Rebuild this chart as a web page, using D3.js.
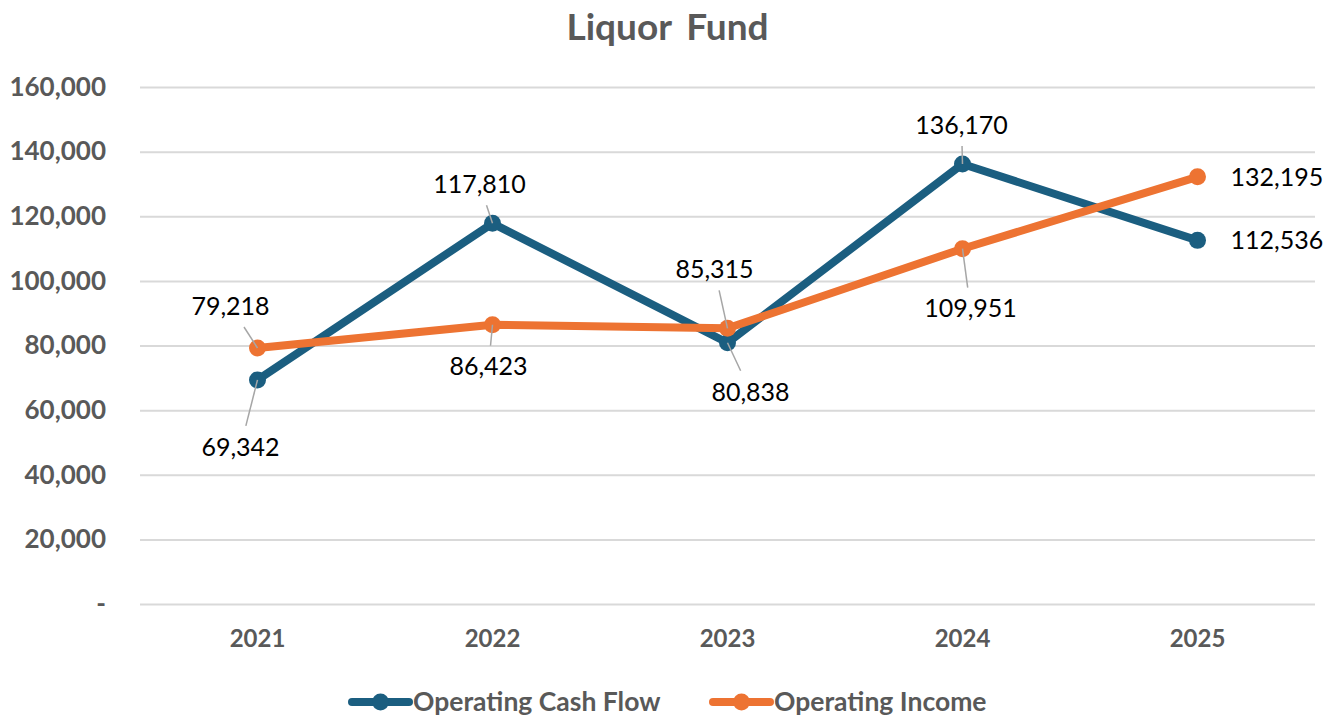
<!DOCTYPE html>
<html>
<head>
<meta charset="utf-8">
<script src="https://cdn.jsdelivr.net/npm/d3@7"></script>
<style>
  body { margin: 0; background: #fff; }
  svg { font-family: Lato, "Noto Sans", sans-serif; }
</style>
</head>
<body>
<svg id="chart" width="1335" height="717"></svg>
<script>
const years = ["2021", "2022", "2023", "2024", "2025"];
const cashFlow = [69342, 117810, 80838, 136170, 112536];
const income = [79218, 86423, 85315, 109951, 132195];
const yTicks = [0, 20000, 40000, 60000, 80000, 100000, 120000, 140000, 160000];

// label placement relative to the point: [dx, dy, leader?]
const cashLabelPos = [[-17, 67, true], [-13, -39, true], [23, 49, true], [-1, -39, true], [0, 0, "right"]];
const incomeLabelPos = [[-27, -42, true], [-4, 42, true], [-13, -59, true], [8, 60, true], [0, 0, "right"]];

const width = 1335, height = 717;
const margin = { top: 87, right: 20, bottom: 113, left: 140 };
const svg = d3.select("#chart");

const x = d3.scaleBand().domain(years).range([margin.left, width - margin.right]);
const y = d3.scaleLinear().domain([0, 160000]).range([height - margin.bottom, margin.top]);
const cx = (d) => x(d) + x.bandwidth() / 2;

const gray = "#595959";
const series = [
  { name: "Operating Cash Flow", values: cashFlow, color: "#1B5E80", pos: cashLabelPos },
  { name: "Operating Income", values: income, color: "#ED7332", pos: incomeLabelPos },
];

svg.append("text")
  .attr("x", width / 2).attr("y", 40)
  .attr("text-anchor", "middle")
  .attr("fill", gray)
  .attr("font-size", 37).attr("font-weight", 700)
  .attr("word-spacing", 6)
  .text("Liquor Fund");

// gridlines + y labels
const yAxis = svg.append("g")
  .attr("transform", `translate(${margin.left},0)`)
  .call(d3.axisLeft(y).tickValues(yTicks)
    .tickSize(-(width - margin.left - margin.right))
    .tickPadding(34)
    .tickFormat((d) => (d === 0 ? "-" : d3.format(",")(d))));
yAxis.select(".domain").remove();
yAxis.selectAll("line").attr("stroke", "#D9D9D9").attr("stroke-width", 2);
yAxis.selectAll("text")
  .attr("fill", gray).attr("font-size", 26).attr("font-weight", 700)
  .attr("font-family", "Lato, sans-serif");

const xAxis = svg.append("g")
  .attr("transform", `translate(0,${height - margin.bottom})`)
  .call(d3.axisBottom(x).tickSize(0).tickPadding(26));
xAxis.select(".domain").remove();
xAxis.selectAll("text")
  .attr("fill", gray).attr("font-size", 24).attr("font-weight", 700)
  .attr("font-family", "Lato, sans-serif");

const line = d3.line().x((d, i) => cx(years[i])).y((d) => y(d));

series.forEach((s) => {
  svg.append("path")
    .datum(s.values)
    .attr("d", line)
    .attr("fill", "none")
    .attr("stroke", s.color)
    .attr("stroke-width", 8)
    .attr("stroke-linejoin", "round");
  svg.append("g").selectAll("circle")
    .data(s.values)
    .join("circle")
    .attr("cx", (d, i) => cx(years[i]))
    .attr("cy", (d) => y(d))
    .attr("r", 8.5)
    .attr("fill", s.color);
});

// data labels with leader lines
const fmt = d3.format(",");
series.forEach((s) => {
  s.values.forEach((v, i) => {
    const px = cx(years[i]), py = y(v);
    const [dx, dy, mode] = s.pos[i];
    if (mode === "right") {
      svg.append("text")
        .attr("x", px + 33).attr("y", py)
        .attr("dy", "0.35em")
        .attr("font-size", 25).attr("fill", "#000")
        .text(fmt(v));
      return;
    }
    const lx = px + dx, ly = py + dy;
    if (mode) {
      const hh = 21;
      const t = 1 - hh / Math.abs(dy);
      svg.append("line")
        .attr("x1", px).attr("y1", py)
        .attr("x2", px + dx * t).attr("y2", py + dy * t)
        .attr("stroke", "#A6A6A6").attr("stroke-width", 1.5);
    }
    svg.append("text")
      .attr("x", lx).attr("y", ly)
      .attr("dy", "0.35em")
      .attr("text-anchor", "middle")
      .attr("font-size", 25).attr("fill", "#000")
      .text(fmt(v));
  });
});

// legend
const legendPos = [352, 713];
series.forEach((s, i) => {
  const g = svg.append("g").attr("transform", `translate(${legendPos[i]},702)`);
  g.append("line").attr("x1", 0).attr("x2", 57)
    .attr("stroke", s.color).attr("stroke-width", 8).attr("stroke-linecap", "round");
  g.append("circle").attr("cx", 28.5).attr("r", 8.5).attr("fill", s.color);
  g.append("text").attr("x", 61).attr("dy", "0.35em")
    .attr("fill", gray).attr("font-size", 26.5).attr("font-weight", 700)
    .text(s.name);
});
</script>
</body>
</html>
